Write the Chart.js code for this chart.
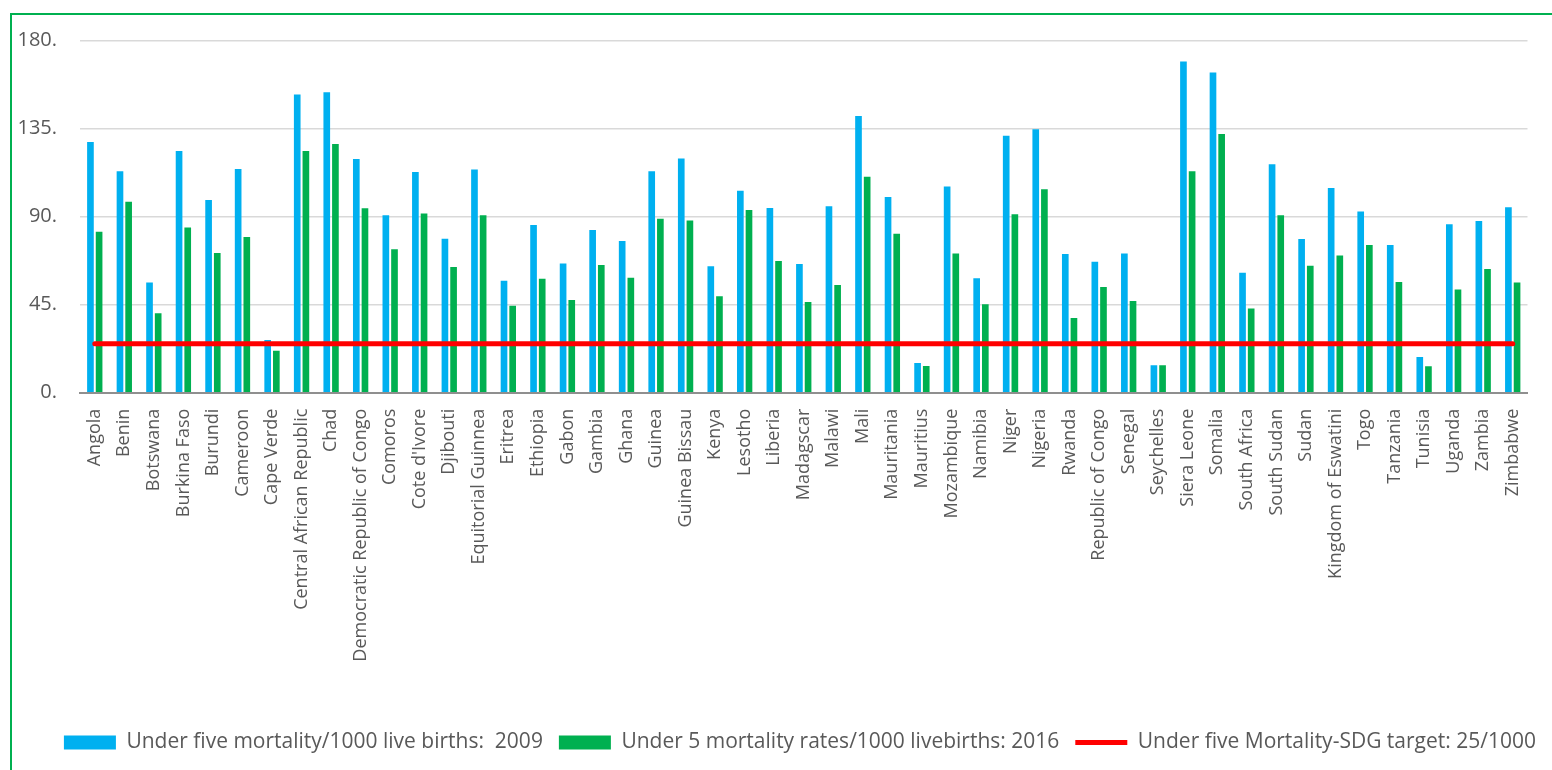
<!DOCTYPE html>
<html>
<head>
<meta charset="utf-8">
<title>Under five mortality in Africa</title>
<script src="https://cdn.jsdelivr.net/npm/chart.js@4.4.1/dist/chart.umd.min.js"></script>
<style>
  html, body { margin: 0; padding: 0; background: #ffffff; overflow: hidden; }
  #frame {
    position: absolute; left: 10px; top: 13px; width: 3000px; height: 3000px;
    border-left: 2px solid #00b050; border-top: 2px solid #00b050;
  }
  #wrap { position: absolute; left: 0; top: 0; width: 1552px; height: 770px; }
</style>
</head>
<body>
<div id="frame"></div>
<div id="wrap"><canvas id="chart"></canvas></div>
<script>
// Countries, in the order they are plotted
const countries = [
  "Angola", "Benin", "Botswana", "Burkina Faso", "Burundi", "Cameroon", "Cape Verde",
  "Central African Republic", "Chad", "Democratic Republic of Congo", "Comoros",
  "Cote d'Ivore", "Djibouti", "Equitorial Guinnea", "Eritrea", "Ethiopia", "Gabon",
  "Gambia", "Ghana", "Guinea", "Guinea Bissau", "Kenya", "Lesotho", "Liberia",
  "Madagscar", "Malawi", "Mali", "Mauritania", "Mauritius", "Mozambique", "Namibia",
  "Niger", "Nigeria", "Rwanda", "Republic of Congo", "Senegal", "Seychelles",
  "Siera Leone", "Somalia", "South Africa", "South Sudan", "Sudan",
  "Kingdom of Eswatini", "Togo", "Tanzania", "Tunisia", "Uganda", "Zambia", "Zimbabwe"
];

// Under five mortality per 1000 live births, 2009
const mortality2009 = [
  128.2, 113.2, 56.4, 123.6, 98.5, 114.4, 26.9, 152.5, 153.7, 119.5, 90.7,
  112.8, 78.7, 114.2, 57.3, 85.7, 66.1, 83.2, 77.6, 113.3, 119.8, 64.6, 103.3, 94.4,
  65.8, 95.4, 141.5, 100.1, 15.2, 105.5, 58.5, 131.4, 134.7, 70.9, 67.0, 71.2, 14.1,
  169.4, 163.8, 61.4, 116.8, 78.6, 104.7, 92.7, 75.5, 18.2, 86.2, 87.8, 94.8
];

// Under five mortality per 1000 live births, 2016
const mortality2016 = [
  82.3, 97.7, 40.6, 84.5, 71.4, 79.6, 21.5, 123.6, 127.2, 94.3, 73.3,
  91.7, 64.3, 90.8, 44.5, 58.3, 47.4, 65.3, 58.8, 89.0, 88.1, 49.3, 93.4, 67.3,
  46.4, 55.1, 110.4, 81.3, 13.6, 71.2, 45.2, 91.2, 104.1, 38.2, 54.0, 46.9, 14.1,
  113.3, 132.3, 43.1, 90.7, 64.9, 70.2, 75.5, 56.6, 13.5, 52.8, 63.2, 56.4
];

// SDG target: 25 per 1000
const sdgTarget = [
  25, 25, 25, 25, 25, 25, 25, 25, 25, 25, 25, 25, 25, 25, 25, 25, 25, 25, 25, 25,
  25, 25, 25, 25, 25, 25, 25, 25, 25, 25, 25, 25, 25, 25, 25, 25, 25, 25, 25, 25,
  25, 25, 25, 25, 25, 25, 25, 25, 25
];

// Value axis ticks
const yTicks = [0, 45, 90, 135, 180];

const seriesNames = [
  "Under five mortality/1000 live births:  2009",
  "Under 5 mortality rates/1000 livebirths: 2016",
  "Under five Mortality-SDG target: 25/1000"
];

const TEXT = '#595959';
const FONT = "'Open Sans', sans-serif";
const PAD_BOTTOM = 7;
const PLOT_BOTTOM = 392.7;

function draw() {
  Chart.defaults.font.family = FONT;
  Chart.defaults.color = TEXT;

  new Chart(document.getElementById('chart'), {
    type: 'bar',
    data: {
      labels: countries,
      datasets: [
        {
          label: seriesNames[0],
          data: mortality2009,
          backgroundColor: '#00b0f0',
          borderWidth: 0,
          categoryPercentage: 0.586,
          barPercentage: 0.77,
          pointStyle: 'rect',
          order: 1
        },
        {
          label: seriesNames[1],
          data: mortality2016,
          backgroundColor: '#00b050',
          borderWidth: 0,
          categoryPercentage: 0.586,
          barPercentage: 0.77,
          pointStyle: 'rect',
          order: 1
        },
        {
          type: 'line',
          label: seriesNames[2],
          data: sdgTarget,
          borderColor: '#ff0000',
          backgroundColor: '#ff0000',
          borderWidth: 5,
          borderCapStyle: 'round',
          pointRadius: 0,
          pointHoverRadius: 0,
          pointStyle: 'line',
          fill: false,
          order: 0
        }
      ]
    },
    options: {
      responsive: true,
      maintainAspectRatio: false,
      animation: false,
      events: [],
      layout: { padding: { top: 40.7, left: 0, right: 0, bottom: PAD_BOTTOM } },
      plugins: {
        tooltip: { enabled: false },
        legend: {
          position: 'bottom',
          align: 'end',
          labels: {
            usePointStyle: true,
            pointStyleWidth: 52,
            boxHeight: 14,
            padding: 16,
            color: TEXT,
            font: { family: FONT, size: 21 },
            sort: (a, b) => a.datasetIndex - b.datasetIndex
          }
        }
      },
      scales: {
        x: {
          grid: { display: false, drawTicks: false },
          border: { display: true, color: '#8f8f8f', width: 2 },
          ticks: {
            autoSkip: false,
            minRotation: 90,
            maxRotation: 90,
            padding: 16,
            color: TEXT,
            font: { family: FONT, size: 18 }
          },
          afterFit: (scale) => {
            const chart = scale.chart;
            const legendH = chart.legend ? chart.legend.height : 47;
            scale.height = chart.height - PAD_BOTTOM - legendH - PLOT_BOTTOM;
          }
        },
        y: {
          min: yTicks[0],
          max: yTicks[yTicks.length - 1],
          afterBuildTicks: (scale) => { scale.ticks = yTicks.map(v => ({ value: v })); },
          grid: { color: '#d9d9d9', lineWidth: 1.5, drawTicks: false },
          border: { display: false },
          ticks: {
            padding: 23,
            color: TEXT,
            font: { family: FONT, size: 20 },
            callback: (v) => v + '.'
          },
          afterFit: (scale) => { scale.width = 80; }
        },
        // empty right-hand strip that keeps the plot clear of the frame edge
        yRight: {
          position: 'right',
          min: 0,
          max: 180,
          grid: { display: false, drawTicks: false },
          border: { display: false },
          ticks: { display: false },
          afterFit: (scale) => { scale.width = 24.5; }
        }
      }
    }
  });
}

if (document.fonts && document.fonts.load) {
  Promise.all([
    document.fonts.load("18px 'Open Sans'"),
    document.fonts.load("21px 'Open Sans'")
  ]).then(draw, draw);
} else {
  draw();
}
</script>
</body>
</html>
